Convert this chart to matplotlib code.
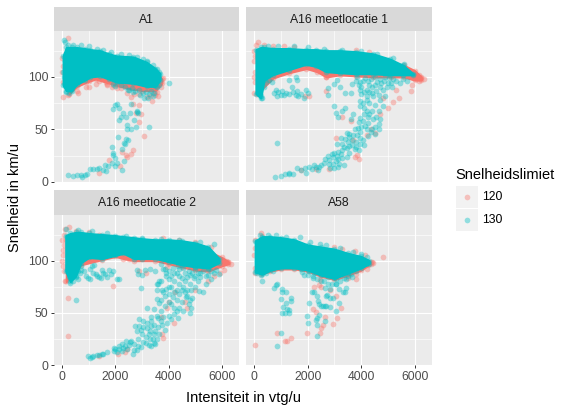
import matplotlib
matplotlib.use("Agg")
import matplotlib.pyplot as plt
from matplotlib.lines import Line2D
from matplotlib.patches import Rectangle

plt.rcParams['font.family'] = ['Liberation Sans', 'DejaVu Sans']

width = 568
height = 413
red = '#F8766D'
teal = '#00BFC4'

panel_names = ['A1', 'A16 meetlocatie 1', 'A16 meetlocatie 2', 'A58']
limit_labels = ['120', '130']
x_ticks = [0, 2000, 4000, 6000]
x_minor = [1000, 3000, 5000]
y_ticks = [0, 50, 100]
y_minor = [25, 75, 125]

# dense part of each cloud, read as top and bottom edge
a1_red_x = [250, 550, 900, 1250, 1650, 2050, 2500, 3000, 3500, 3750]
a1_red_top = [120, 122, 122, 120, 118, 116, 114, 110, 104, 98]
a1_red_bot = [84, 91, 95, 98, 95, 92, 89, 87, 87, 94]
a1_teal_x = [30, 150, 350, 550, 850, 1050, 1420, 1750, 2045, 2670, 3170, 3500, 3680]
a1_teal_top = [120, 128, 128, 128, 127, 126, 125, 122, 120, 119, 114, 108, 103]
a1_teal_bot = [92, 87, 87, 93, 97, 100, 101, 98, 95, 94, 91, 91, 97]

b1_red_x = [100, 700, 1300, 1950, 2350, 2700, 3200, 3800, 4450, 5100, 5600, 6000, 6250]
b1_red_top = [120, 122, 122, 121, 120, 119, 118, 118, 116, 114, 111, 106, 100]
b1_red_bot = [84, 99, 104, 108, 105, 100, 102, 101, 100, 100, 100, 97, 97]
b1_teal_x = [60, 240, 365, 680, 1300, 1930, 2310, 2685, 3190, 3815, 4440, 5070, 5570, 5950]
b1_teal_top = [126, 128, 128, 127, 127, 126, 126, 125, 125, 124, 122, 117, 111, 103]
b1_teal_bot = [84, 80, 97, 102, 107, 112, 110, 105, 104, 103, 103, 102, 102, 102]

b2_red_x = [150, 700, 1500, 2000, 2300, 2700, 3500, 4000, 4500, 5000, 5500, 6000, 6250]
b2_red_top = [120, 122, 120, 119, 118, 117, 116, 116, 114, 112, 109, 103, 99]
b2_red_bot = [80, 96, 101, 104, 102, 100, 100, 97, 94, 91, 90, 95, 97]
b2_teal_x = [130, 300, 500, 700, 1000, 1500, 2000, 2300, 2700, 3000, 3500, 4000, 4500, 5000, 5500, 5900]
b2_teal_top = [124, 126, 127, 127, 126, 125, 124, 123, 122, 121, 120, 120, 119, 117, 113, 102]
b2_teal_bot = [90, 80, 85, 98, 103, 102, 105, 107, 102, 102, 102, 99, 96, 94, 93, 98]

a58_red_x = [250, 600, 1000, 1500, 2000, 2500, 3000, 3500, 4000, 4350]
a58_red_top = [115, 116, 116, 114, 111, 109, 107, 105, 102, 99]
a58_red_bot = [87, 90, 92, 92, 90, 85, 82, 86, 91, 97]
a58_teal_x = [30, 300, 600, 1000, 1500, 2000, 2500, 3000, 3500, 4000, 4300]
a58_teal_top = [119, 123, 123, 122, 120, 115, 113, 111, 107, 104, 100]
a58_teal_bot = [89, 87, 91, 93, 93, 91, 86, 83, 88, 93, 97]

# loose points around the dense part
a1_red_px = [0, 200, 40, 226, 565, 600, 890, 1016, 1255, 1670, 1880, 2070, 2420, 2600, 2670, 2900, 2760, 2950, 2900, 3090, 2670, 2585, 2400, 2420, 2230, 2170, 1390, 1745, 3360, 3610, 3800, 3700, 3550, 600, 750, 1000, 1400, 1700, 1900, 2200, 2700, 2900, 3200, 3300, 3400, 3500, 0, 10, 20]
a1_red_py = [118, 137, 81, 83, 87, 85, 90, 90, 93, 93, 90, 89, 85, 81, 74, 73, 66, 65, 57, 44, 30, 27, 26, 24, 29, 15, 9, 21, 77, 82, 99, 90, 86, 93, 95, 96, 96, 92, 92, 89, 84, 84, 81, 82, 85, 83, 105, 95, 110]
a1_teal_px = [226, 390, 565, 700, 750, 850, 940, 1040, 1140, 1290, 1390, 1540, 1640, 1620, 1730, 1860, 1980, 2050, 1890, 1920, 1980, 1880, 2230, 2330, 2230, 2360, 2400, 2320, 2110, 2460, 3270, 2420, 2420, 2570, 2770, 2710, 2145, 2195, 2300, 2400, 2550, 2820, 1890, 1980, 2070, 2145, 2570, 2470, 2610, 2920, 3070, 3240, 3400, 4030, 3650, 60, 100, 2800, 2850, 2500, 2650, 2750, 2900, 3050, 3150, 3250, 3350, 3450, 3550, 3650, 2350, 2200, 1900, 2000, 200, 400, 700, 1000, 1300, 1550, 1850, 2200, 2500, 2800, 3050, 3200, 3400, 3550, 100, 60, 30, 150, 250, 330]
a1_teal_py = [7, 6, 7, 7, 5, 7, 8, 12, 12, 12, 13, 11, 10, 16, 15, 18, 15, 18, 26, 28, 23, 33, 11, 20, 31, 36, 41, 37, 43, 40, 52, 50, 54, 50, 52, 59, 59, 62, 66, 62, 66, 67, 69, 73, 74, 70, 74, 88, 89, 83, 80, 80, 82, 94, 105, 135, 133, 68, 66, 88, 86, 87, 88, 85, 86, 84, 87, 85, 90, 92, 90, 92, 93, 91, 130, 130, 130, 129, 127, 126, 124, 122, 121, 119, 117, 115, 111, 108, 115, 100, 105, 86, 85, 88]

b1_red_px = [150, 0, 0, 1880, 2050, 2700, 2680, 6000, 6150, 6250, 6350, 6150, 5900, 5850, 5300, 5400, 5200, 4700, 3300, 3600, 4500, 4200, 3700, 3050, 3900, 3750, 3850, 2800, 2300, 1750, 5000, 4800, 4350, 0, 10, 20, 30, 0, 50, 350, 700, 1100, 1500, 3800, 4300]
b1_red_py = [133, 115, 85, 82, 82, 100, 87, 103, 102, 99, 98, 96, 92, 87, 88, 80, 76, 65, 62, 58, 47, 45, 40, 42, 22, 24, 26, 12, 12, 11, 70, 80, 50, 125, 120, 105, 95, 100, 130, 130, 129, 129, 128, 126, 124]
b1_teal_px = [790, 980, 1130, 1290, 1300, 1430, 1600, 1740, 1900, 1950, 2150, 2300, 2430, 2600, 2780, 2850, 3180, 3350, 2650, 2800, 2950, 3050, 3150, 3300, 3000, 3150, 3300, 3450, 3550, 3650, 3800, 3900, 3300, 3500, 3650, 3800, 3950, 4050, 3450, 3700, 3880, 4000, 4200, 4350, 4500, 4650, 866, 3000, 3050, 3150, 3280, 3400, 3700, 3600, 3950, 4100, 4250, 4450, 4500, 4700, 4250, 4050, 3900, 4300, 4200, 4050, 3950, 4500, 4650, 4800, 4700, 4900, 4400, 4200, 4000, 4300, 4500, 4700, 4850, 5000, 5150, 3800, 3950, 2750, 2750, 3000, 3100, 3200, 3400, 3600, 3650, 650, 800, 900, 1000, 850, 1050, 1200, 1300, 1400, 1450, 1550, 1600, 1650, 1750, 1950, 2000, 1850, 1300, 1550, 1600, 750, 1100, 3850, 3900, 3950, 3980, 4050, 4100, 4150, 4200, 4250, 4300, 4350, 4400, 4450, 4500, 4550, 4600, 4650, 4700, 4750, 4800, 4900, 4950, 5050, 5100, 5200, 5300, 5450, 5550, 5700, 3950, 4100, 4200, 4300, 4400, 4550, 4650, 4400, 4150, 3950, 3750, 3550, 3400, 3250, 3100, 3350, 3550, 3750, 3450, 3250, 3100, 2900, 2750, 2950, 2500, 2400, 2250, 2050, 3150, 3000, 3550, 3850, 3950, 4100, 4250, 300, 250, 200, 350, 450, 550, 500, 900, 1500, 2000, 2600, 3300, 4000, 4600, 5200, 5600]
b1_teal_py = [5, 6, 8, 9, 8, 8, 13, 11, 13, 9, 12, 14, 14, 18, 17, 13, 17, 16, 22, 21, 24, 20, 22, 23, 28, 29, 30, 32, 28, 35, 33, 30, 36, 38, 40, 38, 42, 40, 47, 45, 51, 52, 50, 48, 46, 50, 37, 72, 66, 62, 68, 70, 65, 60, 61, 65, 62, 60, 52, 60, 56, 58, 57, 75, 78, 75, 77, 73, 68, 72, 78, 82, 85, 88, 90, 92, 92, 90, 96, 94, 90, 96, 95, 89, 83, 93, 97, 90, 85, 85, 93, 95, 88, 86, 83, 82, 87, 85, 84, 90, 86, 83, 87, 82, 84, 88, 85, 80, 97, 100, 97, 85, 83, 100, 92, 88, 84, 96, 86, 99, 82, 96, 86, 98, 90, 82, 100, 87, 95, 83, 98, 94, 88, 100, 90, 99, 94, 98, 96, 94, 98, 96, 72, 70, 68, 65, 68, 62, 55, 50, 53, 48, 50, 43, 41, 42, 36, 33, 34, 31, 24, 27, 25, 27, 25, 17, 16, 11, 16, 14, 14, 13, 46, 45, 36, 35, 44, 80, 82, 84, 90, 95, 97, 129, 129, 129, 128, 127, 126, 125, 122, 118, 112]

b2_red_px = [230, 230, 1900, 100, 250, 0, 60, 100, 6050, 6150, 6250, 6350, 6100, 5950, 5700, 5500, 5000, 4600, 4200, 3800, 3750, 3700, 3950, 4000, 2400, 2500, 2250, 2900, 3150, 2450, 1400, 2100, 2350, 3950, 4250, 4700, 0, 10, 30, 50, 20, 70, 500, 1000, 1400, 3800, 4400, 5000, 5600]
b2_red_py = [64, 28, 76, 130, 132, 100, 90, 80, 101, 100, 99, 97, 91, 88, 85, 80, 72, 60, 40, 26, 30, 46, 55, 60, 103, 102, 106, 90, 88, 15, 9, 11, 12, 94, 70, 55, 120, 110, 105, 115, 95, 125, 128, 127, 125, 122, 120, 118, 113]
b2_teal_px = [950, 1050, 1100, 1150, 1300, 1400, 1500, 1550, 1700, 1950, 2000, 2050, 2150, 2250, 2300, 2350, 2450, 2500, 2550, 2650, 2700, 2800, 2850, 2950, 3050, 3150, 3250, 3350, 3450, 3500, 2750, 2800, 2950, 3050, 3200, 3300, 3350, 3450, 3500, 3600, 3750, 3850, 3950, 2900, 3350, 3550, 3200, 3450, 3550, 3650, 3700, 3850, 4000, 4100, 4200, 4350, 4400, 4500, 4650, 4750, 4800, 4850, 4900, 3550, 3600, 3700, 3800, 3900, 4000, 4150, 4300, 4400, 4550, 4700, 4850, 5000, 5150, 5300, 5100, 4950, 4800, 4600, 4400, 4200, 4000, 4150, 4350, 4550, 4750, 5000, 5200, 5400, 5600, 5500, 5800, 5900, 3900, 3850, 3650, 2800, 2850, 3000, 3100, 3300, 3500, 3550, 2950, 500, 500, 600, 650, 700, 800, 900, 950, 1050, 1050, 1100, 1200, 1150, 1250, 1300, 1400, 1450, 1500, 1550, 1600, 1700, 1750, 1900, 1850, 2050, 2150, 300, 400, 3700, 3800, 3900, 4000, 4100, 4200, 4300, 4400, 4500, 4600, 4700, 4800, 4900, 5000, 5100, 5200, 5300, 5400, 5500, 5600, 5700, 4100, 4200, 4300, 4400, 4500, 4600, 4700, 4800, 4000, 4100, 4200, 4300, 3850, 3700, 4000, 3750, 4550, 3600, 3700, 3800, 3450, 3300, 3150, 3000, 2850, 2700, 2600, 2400, 2250, 2150, 1950, 3550, 3650, 3350, 3200, 3050, 2900, 3400, 3250, 450, 600, 700, 250, 150, 600, 1100, 1700, 2400, 3000, 3700, 4400, 5200, 5700]
b2_teal_py = [9, 7, 8, 9, 10, 10, 11, 11, 12, 13, 15, 12, 15, 13, 16, 18, 15, 19, 22, 11, 14, 14, 18, 17, 22, 21, 19, 18, 21, 20, 37, 33, 34, 36, 35, 33, 37, 38, 33, 36, 38, 34, 40, 44, 46, 47, 55, 54, 63, 59, 52, 57, 47, 44, 49, 45, 55, 60, 65, 58, 50, 55, 64, 72, 78, 80, 70, 73, 68, 65, 72, 78, 75, 72, 72, 75, 71, 70, 80, 83, 86, 88, 85, 88, 82, 93, 95, 93, 90, 92, 88, 85, 82, 92, 91, 87, 85, 92, 80, 91, 87, 86, 91, 92, 90, 78, 74, 62, 84, 82, 88, 91, 90, 85, 83, 82, 92, 95, 96, 88, 87, 85, 84, 83, 91, 88, 87, 84, 91, 90, 87, 82, 82, 79, 80, 97, 92, 88, 90, 85, 80, 88, 92, 83, 80, 84, 78, 88, 85, 88, 84, 90, 78, 86, 90, 88, 75, 70, 62, 68, 72, 70, 66, 62, 60, 58, 55, 52, 66, 62, 75, 72, 52, 45, 42, 46, 30, 25, 27, 30, 25, 20, 23, 23, 20, 18, 16, 25, 30, 42, 40, 42, 37, 25, 30, 87, 90, 95, 84, 130, 129, 128, 126, 124, 122, 121, 120, 118, 116]

a58_red_px = [240, 25, 25, 840, 1160, 1220, 1360, 1960, 4830, 2440, 2415, 2250, 2500, 2210, 2310, 2630, 2940, 3090, 2570, 2500, 2465, 2820, 3070, 3230, 3790, 3820, 3510, 4200, 4390, 4450, 4260, 3760, 4140, 25, 0, 10, 30, 300, 3000, 3300]
a58_red_py = [126, 120, 19, 31, 23, 23, 26, 31, 103, 81, 77, 75, 75, 54, 51, 46, 39, 45, 38, 35, 31, 72, 66, 55, 87, 82, 83, 92, 99, 98, 96, 109, 105, 93, 105, 112, 88, 124, 113, 111]
a58_teal_px = [300, 740, 800, 840, 1030, 1030, 1200, 980, 1370, 1360, 1080, 1180, 1220, 1280, 1020, 1145, 1280, 980, 830, 2040, 1960, 2025, 2150, 2250, 2340, 2380, 2415, 2500, 2630, 2570, 2700, 2820, 2670, 2820, 2730, 2940, 2630, 2820, 3070, 3160, 3320, 3380, 3420, 3070, 2340, 2290, 2415, 2340, 2340, 2630, 3160, 2210, 1850, 1750, 2060, 2250, 2440, 2750, 3070, 3420, 3640, 1800, 2000, 2200, 2350, 2500, 2600, 2750, 2900, 3050, 3200, 3350, 3500, 3600, 3800, 200, 500, 800, 1200, 1700, 2100, 2700, 3200, 3700, 4000, 4200, 100, 250, 450, 700]
a58_teal_py = [80, 74, 77, 78, 73, 70, 70, 63, 64, 61, 56, 59, 54, 53, 50, 50, 50, 31, 18, 59, 47, 40, 70, 70, 66, 61, 58, 57, 57, 57, 57, 56, 66, 64, 67, 64, 74, 73, 78, 73, 70, 70, 74, 52, 45, 43, 48, 38, 28, 42, 59, 83, 86, 92, 90, 88, 116, 84, 82, 82, 84, 89, 86, 85, 82, 80, 80, 78, 78, 78, 80, 83, 85, 87, 90, 125, 125, 125, 123, 123, 118, 115, 112, 108, 106, 103, 88, 86, 88, 90]

panel_red_env = [(a1_red_x, a1_red_top, a1_red_bot), (b1_red_x, b1_red_top, b1_red_bot), (b2_red_x, b2_red_top, b2_red_bot), (a58_red_x, a58_red_top, a58_red_bot)]
panel_teal_env = [(a1_teal_x, a1_teal_top, a1_teal_bot), (b1_teal_x, b1_teal_top, b1_teal_bot), (b2_teal_x, b2_teal_top, b2_teal_bot), (a58_teal_x, a58_teal_top, a58_teal_bot)]
panel_red_pts = [(a1_red_px, a1_red_py), (b1_red_px, b1_red_py), (b2_red_px, b2_red_py), (a58_red_px, a58_red_py)]
panel_teal_pts = [(a1_teal_px, a1_teal_py), (b1_teal_px, b1_teal_py), (b2_teal_px, b2_teal_py), (a58_teal_px, a58_teal_py)]


def box(left, top, right, bottom):
    # pixel box to figure fractions
    return [left / width, 1 - bottom / height, (right - left) / width, (bottom - top) / height]


def draw_cloud(ax, env, pts, color):
    x, top, bot = env
    ax.scatter(pts[0], pts[1], s=17, color=color, alpha=0.4, linewidths=0, zorder=3)
    ax.scatter(x + x, top + bot, s=17, color=color, alpha=0.4, linewidths=0, zorder=3)
    ax.fill_between(x, bot, top, color=color, linewidth=1.5, zorder=3)


def main():
    fig = plt.figure(figsize=(width / 100, height / 100), dpi=100)
    lefts = [(54, 239), (246, 432)]
    tops = [(7, 31, 182), (190, 215, 365)]

    for i, name in enumerate(panel_names):
        col = i % 2
        row = i // 2
        left, right = lefts[col]
        strip_top, top, bottom = tops[row]

        strip = fig.add_axes(box(left, strip_top, right, top))
        strip.set_facecolor('#D9D9D9')
        strip.set_xticks([])
        strip.set_yticks([])
        for spine in strip.spines.values():
            spine.set_visible(False)
        strip.text(0.5, 0.47, name, ha='center', va='center', fontsize=8.8, color='#1A1A1A', transform=strip.transAxes)

        ax = fig.add_axes(box(left, top, right, bottom))
        ax.set_facecolor('#EBEBEB')
        for spine in ax.spines.values():
            spine.set_visible(False)
        ax.set_xlim(-312, 6650)
        ax.set_ylim(0, 143.7)
        ax.set_xticks(x_ticks)
        ax.set_yticks(y_ticks)
        ax.set_xticks(x_minor, minor=True)
        ax.set_yticks(y_minor, minor=True)
        ax.grid(True, which='major', color='white', linewidth=0.85, zorder=1)
        ax.grid(True, which='minor', color='white', linewidth=0.45, zorder=1)
        ax.set_axisbelow(True)
        ax.tick_params(which='minor', length=0)
        ax.tick_params(axis='both', which='major', length=2.5, width=0.7, color='#333333', labelcolor='#4D4D4D', labelsize=8.8, pad=1.5)
        if row == 0:
            ax.tick_params(axis='x', which='major', length=0, labelbottom=False)
        if col == 1:
            ax.tick_params(axis='y', which='major', length=0, labelleft=False)

        draw_cloud(ax, panel_red_env[i], panel_red_pts[i], red)
        draw_cloud(ax, panel_teal_env[i], panel_teal_pts[i], teal)

    fig.text(243 / width, 1 - 398 / height, 'Intensiteit in vtg/u', ha='center', va='center', fontsize=10.5)
    fig.text(15 / width, 1 - 198 / height, 'Snelheid in km/u', ha='center', va='center', rotation=90, fontsize=10.5)

    # legend
    fig.text(455 / width, 1 - 175 / height, 'Snelheidslimiet', ha='left', va='center', fontsize=10.5)
    for label, color, key_top in zip(limit_labels, [red, teal], [186, 209]):
        fig.add_artist(Rectangle((456 / width, 1 - (key_top + 22) / height), 22 / width, 22 / height, color='#F2F2F2', linewidth=0, transform=fig.transFigure))
        fig.add_artist(Line2D([467 / width], [1 - (key_top + 11) / height], marker='o', markersize=4.1, markeredgewidth=0, color=color, alpha=0.4, transform=fig.transFigure))
        fig.text(482 / width, 1 - (key_top + 11) / height, label, ha='left', va='center', fontsize=8.8)

    fig.savefig('out.png', dpi=100)


if __name__ == "__main__":
    main()
